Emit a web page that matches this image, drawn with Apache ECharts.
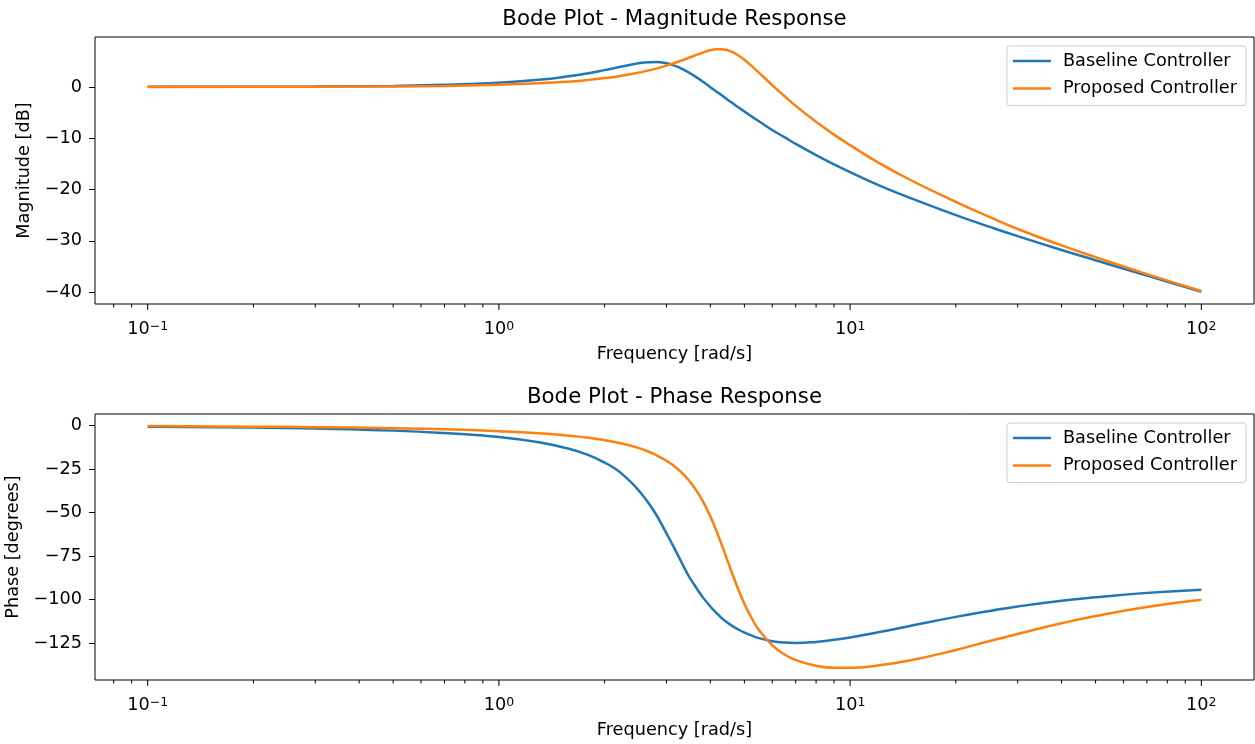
<!DOCTYPE html>
<html>
<head>
<meta charset="utf-8">
<title>Bode Plot</title>
<script src="https://cdn.jsdelivr.net/npm/echarts@6.0.0/dist/echarts.min.js"></script>
<style>
  html, body { margin: 0; padding: 0; background: #fff; }
  #chart { width: 1255px; height: 744px; }
</style>
</head>
<body>
<div id="chart"></div>
<script>
// frequencies [rad/s], read along the log axis
const freq = [0.1, 0.2, 0.3, 0.5, 0.7, 1, 1.3, 1.6, 1.8, 2, 2.15, 2.3, 2.45, 2.6, 2.8, 3, 3.15, 3.3, 3.45, 3.6, 3.8, 4, 4.15, 4.3, 4.45, 4.6, 4.8, 5, 5.25, 5.5, 6, 6.5, 7, 8, 9, 10, 12, 15, 20, 25, 30, 40, 50, 70, 100]

// magnitude [dB]
const baselineMag = [0.01, 0.03, 0.07, 0.2, 0.4, 0.82, 1.38, 2.12, 2.67, 3.27, 3.71, 4.14, 4.5, 4.76, 4.85, 4.6, 4.2, 3.6, 2.92, 2.15, 1.06, -0.05, -0.83, -1.6, -2.35, -3.05, -3.96, -4.8, -5.8, -6.7, -8.4, -9.8, -11.1, -13.3, -15.1, -16.6, -19.1, -21.8, -25, -27.3, -29.1, -31.8, -33.8, -36.8, -39.95]
const proposedMag = [0, 0.02, 0.04, 0.1, 0.2, 0.41, 0.7, 1.07, 1.37, 1.72, 2.0, 2.32, 2.66, 3.03, 3.56, 4.15, 4.62, 5.1, 5.59, 6.08, 6.67, 7.13, 7.32, 7.35, 7.2, 6.86, 6.16, 5.28, 4.04, 2.77, 0.36, -1.78, -3.7, -6.8, -9.3, -11.35, -14.7, -18.3, -22.4, -25.4, -27.7, -30.9, -33.2, -36.5, -39.8]

// phase [degrees]
const baselinePhase = [-0.6, -1.1, -1.7, -2.9, -4.3, -6.5, -9.6, -13.6, -17, -21.3, -25, -29.8, -35.3, -41.5, -51, -62, -70, -78, -85.5, -91.5, -98.5, -104, -107.5, -110.5, -113, -115, -117.2, -119, -120.8, -122.2, -124, -124.8, -125, -124.4, -123.2, -121.8, -118.9, -115, -110, -106.6, -104, -100.7, -98.7, -96.2, -94.4]
const proposedPhase = [-0.3, -0.6, -0.9, -1.5, -2.1, -3.2, -4.4, -5.9, -7, -8.4, -9.6, -10.9, -12.4, -14.1, -16.9, -20.2, -23.2, -26.7, -30.8, -35.6, -43.2, -52.2, -59.9, -68, -76.2, -84.2, -94, -102.4, -110.9, -117.5, -126.3, -131.6, -134.8, -138.1, -139.3, -139.3, -138, -134.8, -129, -123.9, -119.8, -113.7, -109.5, -104.3, -100.2]

// ticks
const majorTicks = [0.1, 1, 10, 100]
const minorTicks = [0.08, 0.09, 0.2, 0.3, 0.4, 0.5, 0.6, 0.7, 0.8, 0.9, 2, 3, 4, 5, 6, 7, 8, 9, 20, 30, 40, 50, 60, 70, 80, 90]
const magTicks = [0, -10, -20, -30, -40]
const phaseTicks = [0, -25, -50, -75, -100, -125]

const names = ['Baseline Controller', 'Proposed Controller']
const blue = '#1f77b4'
const orange = '#ff7f0e'
const font = 'DejaVu Sans'
const fs = 17.7

// matplotlib style margins: 5% each side
const xMin = Math.pow(10, -1.15)
const xMax = Math.pow(10, 2.15)
const magRange = [-42.33, 9.73]
const phaseRange = [-146.3, 6.66]

function minus(v) {
  return v < 0 ? '\u2212' + Math.abs(v) : String(v)
}

function pow10Label(v) {
  const lg = Math.log10(v)
  const e = Math.round(lg)
  if (Math.abs(lg - e) > 1e-6) return ''
  return '{b|10}{e|' + minus(e) + '}'
}

function pairs(xs, ys) {
  return xs.map((x, i) => [x, ys[i]])
}

function xAxisFor(gridIndex) {
  return {
    type: 'log',
    logBase: 10,
    gridIndex,
    min: xMin,
    max: xMax,
    name: 'Frequency [rad/s]',
    nameLocation: 'middle',
    nameGap: 41,
    nameTextStyle: { fontSize: fs, color: '#000', fontFamily: font },
    axisLine: { show: false },
    axisTick: { show: false },
    minorTick: { show: false },
    splitLine: { show: false },
    axisLabel: {
      showMinLabel: false,
      showMaxLabel: false,
      margin: 16,
      fontSize: fs,
      color: '#000',
      formatter: pow10Label,
      rich: {
        b: { fontSize: fs, color: '#000', fontFamily: font, verticalAlign: 'bottom' },
        e: { fontSize: 12.5, color: '#000', fontFamily: font, verticalAlign: 'bottom', padding: [0, 0, 5, 0] }
      }
    }
  }
}

function yAxisFor(gridIndex, name, range, ticks, gap) {
  return {
    type: 'value',
    gridIndex,
    min: range[0],
    max: range[1],
    name,
    nameLocation: 'middle',
    nameGap: gap,
    nameTextStyle: { fontSize: fs, color: '#000', fontFamily: font },
    axisLine: { show: false },
    splitLine: { show: false },
    axisTick: { show: true, length: 6, customValues: ticks, lineStyle: { color: '#000', width: 1 } },
    axisLabel: { customValues: ticks, formatter: minus, fontSize: fs, color: '#000', margin: 13 }
  }
}

// log-axis tick marks, placed through the axis scale
function tickSeries(idx, yBottom) {
  return {
    type: 'custom',
    xAxisIndex: idx,
    yAxisIndex: idx,
    silent: true,
    clip: false,
    z: 5,
    data: majorTicks.map(v => [v, 6]).concat(minorTicks.map(v => [v, 3.5])),
    renderItem(params, api) {
      const p = api.coord([api.value(0), yBottom])
      return {
        type: 'line',
        shape: { x1: p[0], y1: p[1], x2: p[0], y2: p[1] + api.value(1) },
        style: { stroke: '#000', lineWidth: 1 }
      }
    }
  }
}

function lineSeries(idx, name, ys, color) {
  return {
    name,
    type: 'line',
    xAxisIndex: idx,
    yAxisIndex: idx,
    data: pairs(freq, ys),
    smooth: 0.5,
    symbol: 'none',
    showSymbol: false,
    lineStyle: { width: 2.5, color },
    itemStyle: { color }
  }
}

function legendFor(top) {
  return {
    top,
    right: 9,
    orient: 'vertical',
    data: names,
    icon: 'rect',
    itemWidth: 38,
    itemHeight: 2.5,
    itemGap: 9.5,
    padding: [6, 9, 8, 6],
    backgroundColor: 'rgba(255,255,255,0.8)',
    borderColor: '#cccccc',
    borderWidth: 1,
    borderRadius: 3,
    selectedMode: false,
    textStyle: { fontSize: fs, color: '#000', fontFamily: font, padding: [0, 0, 0, 7] }
  }
}

function titleFor(text, top) {
  return {
    text,
    left: 674.5,
    top,
    textAlign: 'center',
    padding: 0,
    textStyle: { fontSize: 21.3, fontWeight: 'normal', color: '#000', fontFamily: font }
  }
}

const chart = echarts.init(document.getElementById('chart'), null, { renderer: 'canvas' })

chart.setOption({
  animation: false,
  backgroundColor: '#fff',
  textStyle: { fontFamily: font },
  title: [
    titleFor('Bode Plot - Magnitude Response', 9),
    titleFor('Bode Plot - Phase Response', 386.5)
  ],
  legend: [legendFor(46), legendFor(423)],
  grid: [
    { left: 95, top: 37, width: 1159, height: 267, show: true, borderColor: '#000', borderWidth: 1, backgroundColor: 'transparent', containLabel: false, outerBoundsMode: 'none' },
    { left: 95, top: 414, width: 1159, height: 266, show: true, borderColor: '#000', borderWidth: 1, backgroundColor: 'transparent', containLabel: false, outerBoundsMode: 'none' }
  ],
  xAxis: [xAxisFor(0), xAxisFor(1)],
  yAxis: [
    yAxisFor(0, 'Magnitude [dB]', magRange, magTicks, 61),
    yAxisFor(1, 'Phase [degrees]', phaseRange, phaseTicks, 71)
  ],
  series: [
    lineSeries(0, names[0], baselineMag, blue),
    lineSeries(0, names[1], proposedMag, orange),
    lineSeries(1, names[0], baselinePhase, blue),
    lineSeries(1, names[1], proposedPhase, orange),
    tickSeries(0, magRange[0]),
    tickSeries(1, phaseRange[0])
  ]
})
</script>
</body>
</html>
